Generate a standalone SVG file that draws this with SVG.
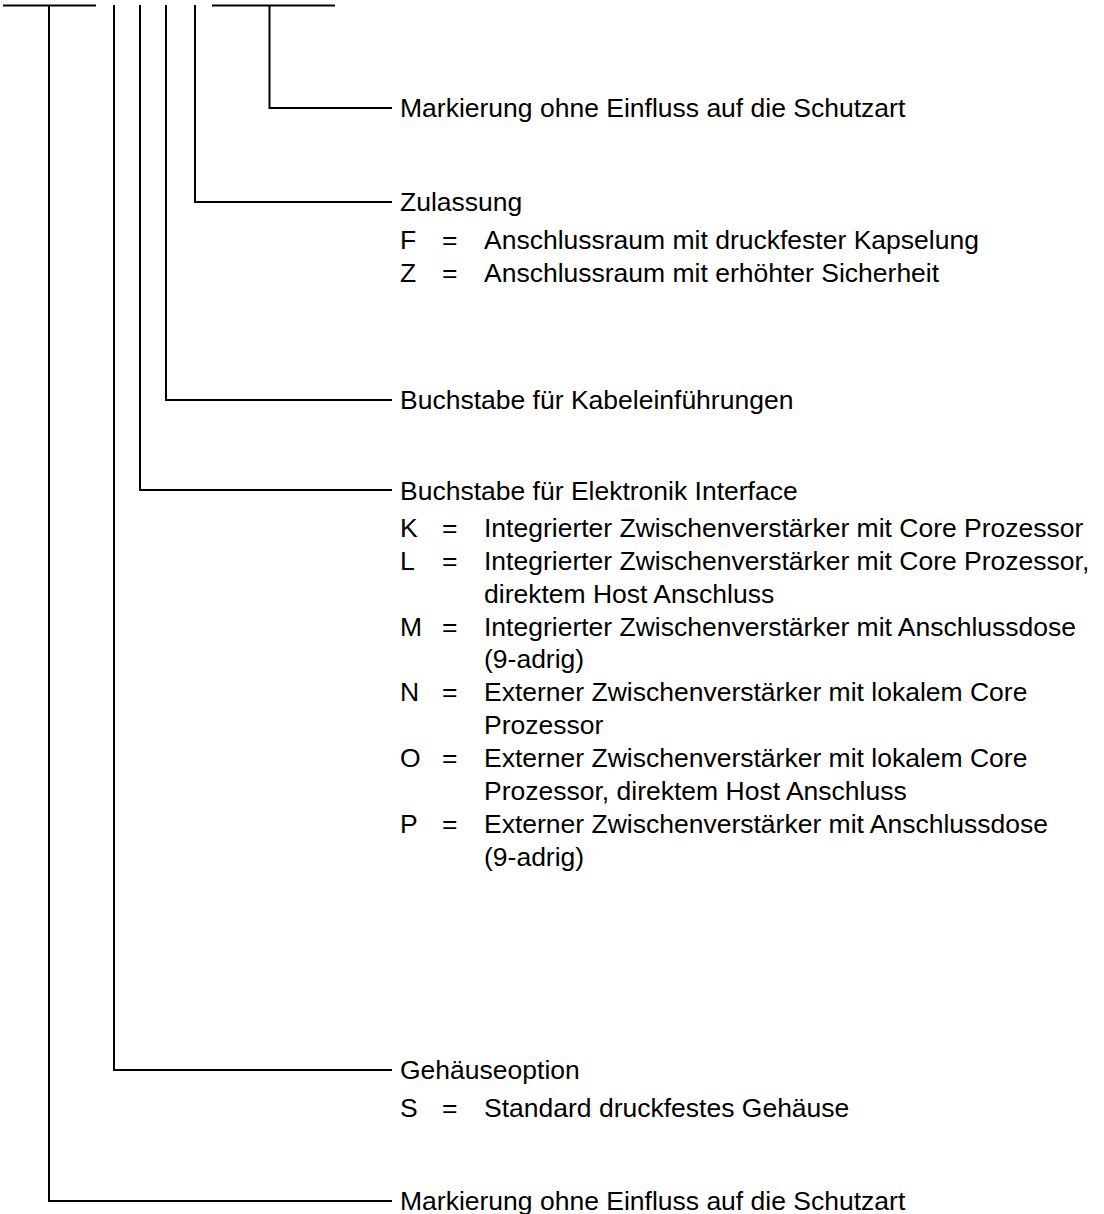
<svg xmlns="http://www.w3.org/2000/svg" width="1104" height="1214" viewBox="0 0 1104 1214">
<style>
.ln{fill:none;stroke:#000;stroke-width:2;stroke-linecap:butt;stroke-linejoin:miter}
text{font-family:"Liberation Sans",Arial,sans-serif;font-size:26.5px;fill:#000}
</style>
<rect width="1104" height="1214" fill="#fff"/>
<g id="connectors">
<path class="ln" d="M3 5.5H96M212 5.5H335"/>
<path class="ln" d="M49 5.5V1201H392"/>
<path class="ln" d="M114 5V1070H392"/>
<path class="ln" d="M140 5V490H392"/>
<path class="ln" d="M166 5V400H392"/>
<path class="ln" d="M195 5V202H392"/>
<path class="ln" d="M269.5 5.5V108H392"/>
</g>
<g id="n-markierung1"><text x="400" y="117">Markierung ohne Einfluss auf die Schutzart</text></g>
<g id="n-zulassung">
<text x="400" y="211">Zulassung</text>
<text x="400" y="249">F</text><text x="442" y="249">=</text><text x="484" y="249">Anschlussraum mit druckfester Kapselung</text>
<text x="400" y="282">Z</text><text x="442" y="282">=</text><text x="484" y="282">Anschlussraum mit erhöhter Sicherheit</text>
</g>
<g id="n-kabel"><text x="400" y="409">Buchstabe für Kabeleinführungen</text></g>
<g id="n-elektronik">
<text x="400" y="500">Buchstabe für Elektronik Interface</text>
<text x="400" y="537">K</text><text x="442" y="537">=</text><text x="484" y="537">Integrierter Zwischenverstärker mit Core Prozessor</text>
<text x="400" y="570">L</text><text x="442" y="570">=</text><text x="484" y="570">Integrierter Zwischenverstärker mit Core Prozessor,</text>
<text x="484" y="603">direktem Host Anschluss</text>
<text x="400" y="636">M</text><text x="442" y="636">=</text><text x="484" y="636">Integrierter Zwischenverstärker mit Anschlussdose</text>
<text x="484" y="668">(9-adrig)</text>
<text x="400" y="701">N</text><text x="442" y="701">=</text><text x="484" y="701">Externer Zwischenverstärker mit lokalem Core</text>
<text x="484" y="734">Prozessor</text>
<text x="400" y="767">O</text><text x="442" y="767">=</text><text x="484" y="767">Externer Zwischenverstärker mit lokalem Core</text>
<text x="484" y="800">Prozessor, direktem Host Anschluss</text>
<text x="400" y="833">P</text><text x="442" y="833">=</text><text x="484" y="833">Externer Zwischenverstärker mit Anschlussdose</text>
<text x="484" y="866">(9-adrig)</text>
</g>
<g id="n-gehaeuse">
<text x="400" y="1079">Gehäuseoption</text>
<text x="400" y="1117">S</text><text x="442" y="1117">=</text><text x="484" y="1117">Standard druckfestes Gehäuse</text>
</g>
<g id="n-markierung2"><text x="400" y="1210">Markierung ohne Einfluss auf die Schutzart</text></g>
</svg>
